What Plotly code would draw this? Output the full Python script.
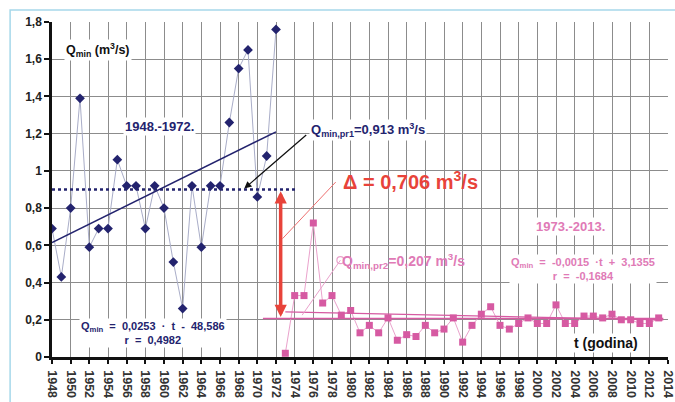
import plotly.graph_objects as go

# ---- data ----
years_p1 = list(range(1948, 1973))
q_p1 = [0.69, 0.43, 0.80, 1.39, 0.59, 0.69, 0.69, 1.06, 0.92, 0.92, 0.69, 0.92, 0.80,
        0.51, 0.26, 0.92, 0.59, 0.92, 0.92, 1.26, 1.55, 1.65, 0.86, 1.08, 1.76]

years_p2 = list(range(1973, 2014))
q_p2 = [0.02, 0.33, 0.33, 0.72, 0.29, 0.33, 0.225, 0.25, 0.13, 0.17, 0.13, 0.21, 0.09,
        0.12, 0.11, 0.17, 0.13, 0.15, 0.21, 0.08, 0.17, 0.23, 0.27, 0.17, 0.15, 0.18,
        0.21, 0.18, 0.18, 0.28, 0.18, 0.18, 0.22, 0.22, 0.21, 0.23, 0.20, 0.20, 0.18,
        0.18, 0.21]

trend_p1_x = [1948, 1972]
trend_p1_y = [0.615, 1.21]
mean_p1_x = [1948, 1974.2]
mean_p1_y = [0.90, 0.90]

trend_p2_x = [1973, 2013.5]
trend_p2_y = [0.242, 0.200]
mean_p2_x = [1970.6, 2013.5]
mean_p2_y = [0.207, 0.207]

delta_x = 1972.5
delta_top = 0.89
delta_bottom = 0.207

xtick_vals = list(range(1948, 2015, 2))
ytick_vals = [0, 0.2, 0.4, 0.6, 0.8, 1.0, 1.2, 1.4, 1.6, 1.8]
ytick_text = ["0", "0,2", "0,4", "0,6", "0,8", "1", "1,2", "1,4", "1,6", "1,8"]

NAVY = "#23236e"
PINK = "#d65aa2"
PINK_LIGHT = "#eaa2cc"
PINK_TEXT = "#e07ab6"
RED = "#e8433a"
FONT = "Liberation Sans, Arial, sans-serif"

fig = go.Figure()

# connecting lines + markers
fig.add_trace(go.Scatter(x=years_p1, y=q_p1, mode="lines+markers",
                         line=dict(color="#a9adc8", width=1),
                         marker=dict(symbol="diamond", size=7.5, color=NAVY)))
fig.add_trace(go.Scatter(x=years_p2, y=q_p2, mode="lines+markers",
                         line=dict(color=PINK_LIGHT, width=1),
                         marker=dict(symbol="square", size=7, color=PINK)))

# trend and mean lines
fig.add_trace(go.Scatter(x=trend_p1_x, y=trend_p1_y, mode="lines",
                         line=dict(color=NAVY, width=1.5)))
fig.add_trace(go.Scatter(x=mean_p1_x, y=mean_p1_y, mode="lines",
                         line=dict(color=NAVY, width=2.5, dash="dot")))
fig.add_trace(go.Scatter(x=trend_p2_x, y=trend_p2_y, mode="lines",
                         line=dict(color=PINK, width=1.2)))
fig.add_trace(go.Scatter(x=mean_p2_x, y=mean_p2_y, mode="lines",
                         line=dict(color=PINK, width=1.5)))

# pink leader line with open circle
fig.add_trace(go.Scatter(x=[1974.8, 1978.9], y=[0.225, 0.52], mode="lines",
                         line=dict(color=PINK_LIGHT, width=1)))
fig.add_trace(go.Scatter(x=[1978.9], y=[0.52], mode="markers",
                         marker=dict(symbol="circle-open", size=7, color=PINK_LIGHT,
                                     line=dict(width=1.2))))
# red leader to delta label
fig.add_trace(go.Scatter(x=[1972.7, 1978.4], y=[0.636, 0.94], mode="lines",
                         line=dict(color="#ee7070", width=1)))

# red double arrow
fig.add_annotation(x=delta_x, y=delta_top, ax=delta_x, ay=delta_bottom,
                   xref="x", yref="y", axref="x", ayref="y", text="",
                   showarrow=True, arrowhead=2, arrowside="end+start",
                   arrowsize=0.7, arrowwidth=3.5, arrowcolor=RED)
# black leader arrow
fig.add_annotation(x=1968.6, y=0.905, ax=1975.4, ay=1.2,
                   xref="x", yref="y", axref="x", ayref="y", text="",
                   showarrow=True, arrowhead=2, arrowsize=1.2, arrowwidth=1.2,
                   arrowcolor="#111111")

def txt(x, y, text, size, color, xanchor="center", bold=True, bg="white"):
    fig.add_annotation(x=x, y=y, xref="x", yref="y", text=("<b>%s</b>" % text) if bold else text,
                       showarrow=False, xanchor=xanchor, yanchor="middle",
                       font=dict(family=FONT, size=size, color=color),
                       bgcolor=bg, borderpad=1)

txt(1949.3, 1.65, "Q<sub>min</sub> (m<sup>3</sup>/s)", 12.5, "#111111", "left")
txt(1959.5, 1.236, "1948.-1972.", 13, NAVY)
txt(1975.5, 1.22, "Q<sub>min,pr1</sub>=0,913 m<sup>3</sup>/s", 13, NAVY, "left")
txt(1979.0, 0.946, "Δ = 0,706 m<sup>3</sup>/s", 20, RED, "left", bg="rgba(255,255,255,0)")
txt(1978.9, 0.515, "Q<sub>min,pr2</sub>=0,207 m<sup>3</sup>/s", 14, PINK_TEXT, "left",
    bg="rgba(255,255,255,0)")
txt(2003.5, 0.70, "1973.-2013.", 13, PINK_TEXT)
txt(2004.9, 0.475, "Q<sub>min</sub>  =  -0,0015  ·t  +  3,1355<br>r  =  -0,1684", 11, PINK_TEXT)
txt(1958.8, 0.13, "Q<sub>min</sub>  =  0,0253  ·  t  -  48,586<br>r  =  0,4982", 11, NAVY)
txt(2007.4, 0.075, "t (godina)", 14, "#111111")

# outer light-blue frame (only top & left visible)
fig.add_shape(type="rect", xref="paper", yref="paper", x0=-0.068, x1=1.3, y0=-0.4, y1=1.036,
              line=dict(color="#a6d8ea", width=1.5), fillcolor="rgba(0,0,0,0)", layer="below")

fig.update_layout(
    width=675, height=402,
    margin=dict(l=52, r=7, t=22, b=45),
    paper_bgcolor="white", plot_bgcolor="white",
    showlegend=False,
    font=dict(family=FONT, color="#222222"),
)
fig.update_xaxes(range=[1948, 2014], tickvals=xtick_vals, ticktext=[str(v) for v in xtick_vals],
                 tickangle=90, tickfont=dict(family=FONT, size=12.5, color="#333333", weight="bold"),
                 ticklabelstandoff=4, automargin=False,
                 showgrid=True, gridcolor="#8c8c8c", gridwidth=1.2,
                 showline=True, linecolor="#111111", linewidth=2.5,
                 ticks="outside", ticklen=4, tickcolor="#111111", tickwidth=1.5,
                 zeroline=False)
fig.update_yaxes(range=[0, 1.8], tickvals=ytick_vals, ticktext=ytick_text,
                 tickfont=dict(family=FONT, size=12, color="#222222", weight="bold"),
                 automargin=False,
                 showgrid=True, gridcolor="#8c8c8c", gridwidth=1.2,
                 showline=True, linecolor="#111111", linewidth=2.5,
                 ticks="outside", ticklen=5, tickcolor="#111111", tickwidth=1.5,
                 zeroline=False)

fig.write_html("out.html")
